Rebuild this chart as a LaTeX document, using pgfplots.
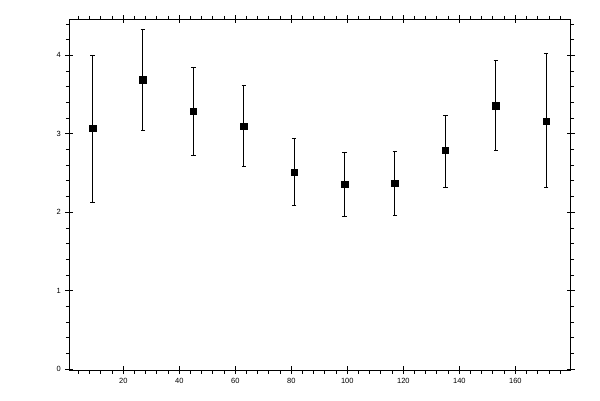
\documentclass[border=0pt]{standalone}
\usepackage{fontspec}
\setmainfont{Liberation Sans}
\usepackage{pgfplots}
\usepackage{pgfplotstable}
\pgfplotsset{compat=1.18}

\pgfplotstableread{
x   y    ep   em
9   3.07 0.93 0.94
27  3.69 0.64 0.65
45  3.29 0.56 0.56
63  3.10 0.52 0.51
81  2.51 0.43 0.42
99  2.36 0.40 0.41
117 2.37 0.41 0.41
135 2.79 0.45 0.47
153 3.36 0.58 0.57
171 3.16 0.86 0.85
}\means

\begin{document}
\begin{tikzpicture}[x=1bp,y=1bp]
\path[use as bounding box] (0,0) rectangle (600,400);
\pgfplotsset{
  frame/.style={
    at={(69.3bp,30bp)}, anchor=south west,
    scale only axis, width=501.2bp, height=350.7bp,
    xmin=0.71, xmax=179.7, ymin=-0.01, ymax=4.46,
    axis line style={line width=1bp},
    xtick={20,40,...,160},
    ytick={0,1,2,3,4},
  },
}
% minor ticks, outside only
\begin{axis}[frame,
  xticklabels={}, yticklabels={},
  minor xtick={4,8,...,176},
  minor ytick={0.2,0.4,...,4.41},
  tick align=outside, major tick length=0bp, minor tick length=3.5bp,
  minor tick style={line width=0.9bp, black},
]
\end{axis}
% major ticks, data
\begin{axis}[frame,
  tick align=center, major tick length=8bp,
  major tick style={line width=1bp, black},
  tick label style={font=\fontsize{7.5bp}{8bp}\selectfont},
  /pgf/number format/assume math mode=true,
  xticklabel style={yshift=-1bp},
  yticklabel style={xshift=-1bp},
]
\addplot[only marks, mark=square*, mark size=3.3bp, black,
  error bars/.cd, y dir=both, y explicit,
  error bar style={line width=1bp, black},
  error mark options={rotate=90, mark size=2.2bp, line width=1bp, black}]
  table[x=x, y=y, y error plus=ep, y error minus=em] {\means};
\end{axis}
\end{tikzpicture}
\end{document}
